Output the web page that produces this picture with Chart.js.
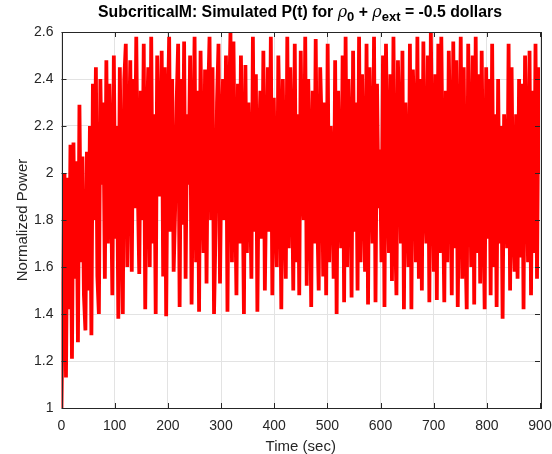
<!DOCTYPE html>
<html>
<head>
<meta charset="utf-8">
<title>SubcriticalM</title>
<script src="https://cdn.jsdelivr.net/npm/chart.js"></script>
<style>
  body { margin: 0; background: #fff; }
  #wrap { position: relative; width: 552px; height: 454px; }
  #title {
    position: absolute; top: 2px; left: 50px; width: 500px; text-align: center;
    font: bold 15.8px "Liberation Sans", Arial, sans-serif; color: #000; white-space: nowrap;
  }
  #title i { font-weight: normal; font-family: "DejaVu Serif", serif; font-size: 16px; }
  #title sub { font-size: 13px; vertical-align: -4px; line-height: 0; }
</style>
</head>
<body>
<div id="wrap">
  <canvas id="chart" width="552" height="454"></canvas>
  <div id="title">SubcriticalM: Simulated P(t) for <i>ρ</i><sub>0</sub> + <i>ρ</i><sub>ext</sub> = -0.5 dollars</div>
</div>
<script>
const tEnd = 900;
const power = [
  1.00, 1.56, 2.00, 1.13, 1.98, 1.42, 2.12, 1.21, 2.13, 1.55,
  2.05, 1.28, 2.29, 1.62, 2.07, 1.48, 1.33, 2.09, 1.50, 2.20,
  1.31, 2.38, 1.80, 2.45, 1.56, 1.40, 2.40, 1.95, 2.30, 1.55,
  2.48, 1.70, 2.38, 2.05, 1.48, 2.50, 1.72, 2.20, 1.38, 2.45,
  1.90, 1.40, 2.40, 2.55, 1.60, 2.10, 2.48, 1.58, 2.40, 1.85,
  2.58, 1.95, 1.57, 2.35, 1.80, 2.55, 1.42, 2.15, 2.45, 1.60,
  2.58, 1.70, 2.25, 1.40, 2.50, 2.05, 1.90, 2.52, 1.56, 2.45,
  1.39, 2.20, 2.58, 1.75, 2.40, 1.58, 1.85, 2.30, 2.55, 1.43,
  2.40, 1.78, 2.56, 1.55, 2.25, 1.95, 2.50, 1.44, 2.05, 2.58,
  1.62, 2.35, 1.41, 2.52, 2.00, 1.66, 2.44, 1.53, 2.30, 2.58,
  1.80, 2.45, 1.40, 1.75, 2.30, 2.55, 1.53, 2.12, 2.40, 1.80,
  2.50, 1.41, 2.25, 2.60, 1.62, 2.56, 1.95, 1.48, 2.38, 1.70,
  2.50, 2.05, 1.40, 2.46, 1.66, 2.30, 1.98, 1.55, 2.58, 1.75,
  2.42, 1.41, 2.10, 2.35, 1.72, 2.52, 1.50, 2.00, 2.45, 1.75,
  2.58, 1.48, 2.32, 1.85, 1.60, 2.50, 2.15, 1.42, 2.40, 1.90,
  1.55, 2.58, 1.68, 2.45, 2.10, 1.50, 2.55, 1.62, 2.25, 1.48,
  2.52, 1.95, 1.80, 2.58, 1.52, 2.40, 2.05, 1.43, 2.35, 1.70,
  2.57, 1.85, 1.50, 2.45, 2.20, 1.56, 2.30, 1.48, 2.55, 1.62,
  2.20, 2.00, 1.55, 2.48, 1.40, 2.35, 1.90, 1.68, 2.50, 1.45,
  2.58, 1.60, 2.40, 2.10, 1.47, 2.52, 1.75, 2.30, 1.50, 2.58,
  1.62, 2.42, 1.98, 1.58, 2.55, 1.44, 2.45, 2.05, 1.70, 2.58,
  1.45, 2.38, 1.85, 2.10, 1.62, 2.50, 1.43, 2.55, 2.00, 1.66,
  2.42, 1.54, 2.58, 1.80, 1.48, 2.48, 2.15, 1.70, 2.52, 1.42,
  2.30, 1.95, 1.60, 2.55, 1.42, 2.44, 2.20, 1.62, 2.58, 1.55,
  2.40, 1.50, 2.56, 1.90, 1.70, 2.50, 1.45, 2.60, 2.05, 1.58,
  2.42, 1.46, 2.55, 1.66, 2.58, 1.95, 1.45, 2.35, 1.62, 2.52,
  2.10, 1.48, 2.56, 1.68, 2.48, 1.43, 2.00, 2.58, 1.55, 2.45,
  1.75, 1.42, 2.55, 2.05, 1.60, 2.50, 1.44, 2.58, 1.66, 2.42,
  1.53, 2.52, 1.90, 1.42, 2.45, 1.72, 2.40, 1.48, 2.55, 1.60,
  2.25, 1.43, 2.40, 1.70, 2.20, 1.38, 2.25, 1.95, 1.68, 2.55,
  1.50, 2.45, 1.80, 1.58, 2.25, 1.55, 2.40, 1.64, 2.38, 1.42,
  2.50, 2.05, 1.62, 2.52, 1.48, 2.35, 1.66, 2.55, 1.55, 2.45,
  2.00
];
const times = power.map((_, i) => i * tEnd / (power.length - 1));
const xTicks = [0, 100, 200, 300, 400, 500, 600, 700, 800, 900];
const yTicks = [1, 1.2, 1.4, 1.6, 1.8, 2, 2.2, 2.4, 2.6];

const axisColor = '#262626';
const fontFamily = '"Liberation Sans", Arial, sans-serif';

// MATLAB style box with inside ticks
const boxPlugin = {
  id: 'box',
  afterDraw(chart) {
    const { ctx, chartArea: a, scales } = chart;
    ctx.save();
    ctx.strokeStyle = axisColor;
    ctx.lineWidth = 1;
    ctx.beginPath();
    xTicks.forEach(v => {
      const px = Math.round(scales.x.getPixelForValue(v)) + 0.5;
      ctx.moveTo(px, a.bottom); ctx.lineTo(px, a.bottom - 5);
      ctx.moveTo(px, a.top); ctx.lineTo(px, a.top + 5);
    });
    yTicks.forEach(v => {
      const py = Math.round(scales.y.getPixelForValue(v)) + 0.5;
      ctx.moveTo(a.left, py); ctx.lineTo(a.left + 5, py);
      ctx.moveTo(a.right, py); ctx.lineTo(a.right - 5, py);
    });
    ctx.stroke();
    ctx.strokeRect(Math.round(a.left) + 0.5, Math.round(a.top) + 0.5,
      Math.round(a.right - a.left), Math.round(a.bottom - a.top));
    ctx.restore();
  }
};

new Chart(document.getElementById('chart'), {
  type: 'line',
  data: {
    datasets: [{
      data: times.map((t, i) => ({ x: t, y: power[i] })),
      borderColor: '#ff0000',
      borderWidth: 3.8,
      pointRadius: 0,
      tension: 0,
      clip: 0
    }]
  },
  options: {
    responsive: false,
    animation: false,
    layout: { padding: { top: 32, right: 12, left: 0, bottom: 0 } },
    plugins: { legend: { display: false }, title: { display: false }, tooltip: { enabled: false } },
    scales: {
      x: {
        type: 'linear', min: 0, max: 900,
        afterFit(s) { s.height = 46; s.paddingLeft = 0; s.paddingRight = 0; },
        afterBuildTicks(s) { s.ticks = xTicks.map(v => ({ value: v })); },
        grid: { color: '#e3e3e3', drawTicks: false },
        border: { display: false },
        ticks: { color: axisColor, padding: 10, maxRotation: 0, font: { family: fontFamily, size: 14 } },
        title: { display: true, text: 'Time (sec)', color: axisColor, padding: 0, font: { family: fontFamily, size: 15, lineHeight: 1 } }
      },
      y: {
        min: 1, max: 2.6,
        afterFit(s) { s.width = 61.5; s.paddingTop = 0; s.paddingBottom = 0; },
        afterBuildTicks(s) { s.ticks = yTicks.map(v => ({ value: v })); },
        grid: { color: '#e3e3e3', drawTicks: false },
        border: { display: false },
        ticks: { color: axisColor, padding: 8, font: { family: fontFamily, size: 14 }, callback: v => String(Math.round(v * 10) / 10) },
        title: { display: true, text: 'Normalized Power', color: axisColor, padding: { bottom: 0, top: 14 }, font: { family: fontFamily, size: 15 } }
      }
    }
  },
  plugins: [boxPlugin]
});
</script>
</body>
</html>
